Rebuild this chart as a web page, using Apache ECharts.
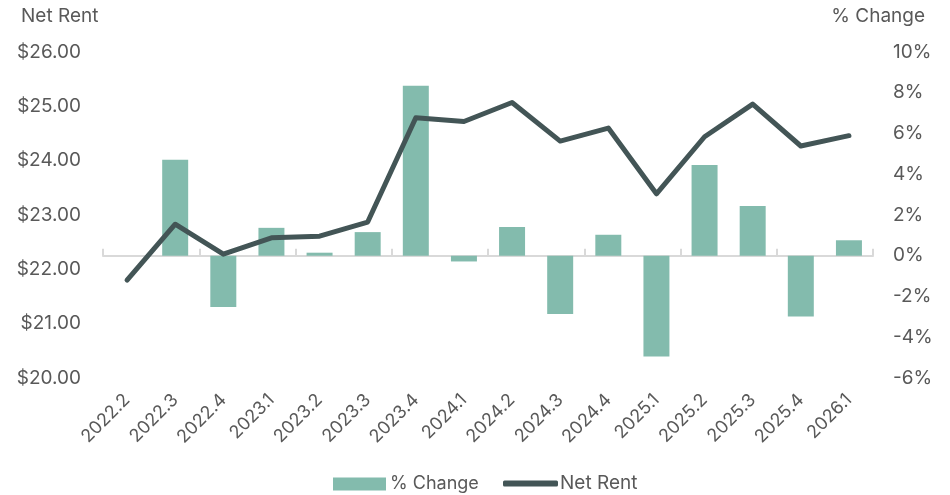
<!DOCTYPE html>
<html>
<head>
<meta charset="utf-8">
<script src="https://cdn.jsdelivr.net/npm/echarts@6/dist/echarts.min.js"></script>
<style>
  html, body { margin: 0; padding: 0; background: #fff; }
  #chart { width: 950px; height: 495px; }
</style>
</head>
<body>
<div id="chart"></div>
<script>
const quarters = ['2022.2', '2022.3', '2022.4', '2023.1', '2023.2', '2023.3', '2023.4', '2024.1',
  '2024.2', '2024.3', '2024.4', '2025.1', '2025.2', '2025.3', '2025.4', '2026.1']
// 季度净租金（美元）
const netRent = [21.80, 22.83, 22.28, 22.58, 22.61, 22.87, 24.79, 24.72,
  25.07, 24.36, 24.60, 23.39, 24.44, 25.04, 24.27, 24.46]
// 环比变化（%）
const pctChange = [null, 4.71, -2.51, 1.37, 0.15, 1.16, 8.34, -0.28,
  1.41, -2.86, 1.03, -4.95, 4.45, 2.44, -2.98, 0.76]

const textColor = '#595959'
const font = 'Inter, Roboto, sans-serif'
const barColor = '#83bbad'
const lineColor = '#435556'

const chart = echarts.init(document.getElementById('chart'))
chart.setOption({
  animation: false,
  textStyle: { fontFamily: font, color: textColor },
  grid: { left: 103, right: 77, top: 52, bottom: 117 },
  legend: [
    {
      bottom: -3,
      left: 328,
      itemWidth: 53,
      itemHeight: 13,
      itemGap: 4,
      textStyle: { fontSize: 18, color: textColor, fontFamily: font, padding: [0, 0, 0, -1] },
      data: [{ name: '% Change', icon: 'rect' }]
    },
    {
      bottom: -3,
      left: 498,
      itemWidth: 55,
      itemHeight: 6,
      textStyle: { fontSize: 19, color: textColor, fontFamily: font, padding: [0, 0, 0, -3] },
      data: [{ name: 'Net Rent', icon: 'roundRect', itemStyle: { color: lineColor } }]
    }
  ],
  xAxis: [
    {
      type: 'category',
      data: quarters,
      axisLine: { show: false },
      axisTick: { show: false },
      axisLabel: { rotate: 45, fontSize: 18, color: textColor, margin: 19, interval: 0 }
    },
    {
      type: 'category',
      data: quarters,
      axisLine: { onZero: true, onZeroAxisIndex: 1, lineStyle: { color: '#d9d9d9', width: 2 } },
      axisTick: { show: true, length: 7, lineStyle: { color: '#d9d9d9', width: 2 } },
      axisLabel: { show: false }
    }
  ],
  yAxis: [
    {
      type: 'value',
      min: 20, max: 26, interval: 1,
      name: 'Net Rent',
      nameLocation: 'end',
      nameGap: 26,
      nameTextStyle: { fontSize: 19, color: textColor, align: 'left', padding: [0, 0, 0, -82] },
      splitLine: { show: false },
      axisLine: { show: false },
      axisTick: { show: false },
      axisLabel: { fontSize: 19, color: textColor, margin: 22, formatter: v => '$' + v.toFixed(2) }
    },
    {
      type: 'value',
      min: -6, max: 10, interval: 2,
      name: '% Change',
      nameLocation: 'end',
      nameGap: 26,
      nameTextStyle: { fontSize: 19, color: textColor, align: 'right', padding: [0, -52, 0, 0] },
      splitLine: { show: false },
      axisLine: { show: false },
      axisTick: { show: false },
      axisLabel: { fontSize: 19, color: textColor, margin: 20, formatter: v => v + '%' }
    }
  ],
  series: [
    {
      name: '% Change',
      type: 'bar',
      xAxisIndex: 0,
      yAxisIndex: 1,
      data: pctChange,
      barWidth: '54%',
      itemStyle: { color: barColor }
    },
    {
      name: 'Net Rent',
      type: 'line',
      xAxisIndex: 0,
      yAxisIndex: 0,
      data: netRent,
      symbol: 'none',
      lineStyle: { color: lineColor, width: 5, cap: 'round', join: 'round' },
      itemStyle: { color: lineColor }
    }
  ]
})
</script>
</body>
</html>
